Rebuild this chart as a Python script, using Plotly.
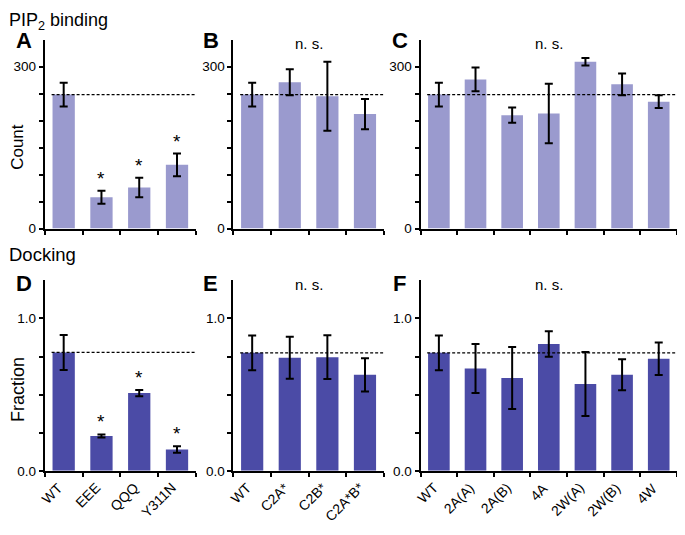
import plotly.graph_objects as go

# page is 685x535; the html body has an 8px margin, so the figure is drawn 8px in
OFF = 8
W, H = 685 - OFF, 535 - OFF

# ---- data ----
cats_A = ["WT", "EEE", "QQQ", "Y311N"]
cats_B = ["WT", "C2A*", "C2B*", "C2A*B*"]
cats_C = ["WT", "2A(A)", "2A(B)", "4A", "2W(A)", "2W(B)", "4W"]

count_A = [248, 58, 76, 118]
count_A_err = [22, 12, 18, 21]
count_B = [248, 271, 245, 212]
count_B_err = [22, 24, 64, 28]
count_C = [248, 276, 210, 213, 309, 267, 235]
count_C_err = [22, 22, 14, 55, 7, 20, 12]

frac_D = [0.777, 0.229, 0.51, 0.14]
frac_D_err = [0.115, 0.01, 0.02, 0.021]
frac_E = [0.774, 0.742, 0.746, 0.63]
frac_E_err = [0.114, 0.137, 0.144, 0.109]
frac_F = [0.774, 0.671, 0.609, 0.832, 0.57, 0.63, 0.735]
frac_F_err = [0.114, 0.161, 0.204, 0.083, 0.21, 0.102, 0.107]

sig_A = [False, True, True, True]
sig_D = [False, True, True, True]

count_ticks = [0, 50, 100, 150, 200, 250, 300]
count_ticktext = ["0", " ", " ", " ", " ", " ", "300"]
frac_ticks = [0, 0.25, 0.5, 0.75, 1.0]
frac_ticktext = ["0.0", " ", " ", " ", "1.0"]

TOP_COLOR = "#9A9ACE"
BOT_COLOR = "#4B4BA6"
FONT = "Liberation Sans, Arial, sans-serif"

# ---- layout geometry (page pixels) ----
xcols = [(43, 195), (232.7, 384), (421, 679)]
top_y = (40, 232)
bot_y = (284.5, 478)


def px(x):
    return (x - OFF) / W


def py(y):
    return 1 - (y - OFF) / H


def xd(a, b):
    return [px(a), px(b)]


def yd(t, b):
    return [py(b), py(t)]


def label(x, y, text, size, **kw):
    fig.add_annotation(x=px(x), y=py(y), xref="paper", yref="paper", text=text,
                       showarrow=False, xanchor=kw.pop("xanchor", "center"),
                       yanchor=kw.pop("yanchor", "middle"),
                       font=dict(size=size, color="black", family=FONT), **kw)


fig = go.Figure()

panels = [
    (cats_A, count_A, count_A_err, TOP_COLOR, 0, "top", sig_A, False),
    (cats_B, count_B, count_B_err, TOP_COLOR, 1, "top", None, True),
    (cats_C, count_C, count_C_err, TOP_COLOR, 2, "top", None, True),
    (cats_A, frac_D, frac_D_err, BOT_COLOR, 0, "bot", sig_D, False),
    (cats_B, frac_E, frac_E_err, BOT_COLOR, 1, "bot", None, True),
    (cats_C, frac_F, frac_F_err, BOT_COLOR, 2, "bot", None, True),
]

letters = ["A", "B", "C", "D", "E", "F"]
letter_x = [22, 210, 400, 22, 210, 400]

for i, (cats, vals, errs, color, col, row, sig, ns) in enumerate(panels):
    n = i + 1
    xa = "x" if n == 1 else f"x{n}"
    ya = "y" if n == 1 else f"y{n}"
    fig.add_trace(go.Bar(
        x=list(range(len(cats))), y=vals, marker_color=color, marker_line_width=0,
        error_y=dict(type="data", array=errs, color="black", thickness=2, width=4),
        xaxis=xa, yaxis=ya, showlegend=False, hoverinfo="skip"))
    xkey = "xaxis" if n == 1 else f"xaxis{n}"
    ykey = "yaxis" if n == 1 else f"yaxis{n}"
    ydom = yd(*top_y) if row == "top" else yd(*bot_y)
    fig.layout[xkey] = dict(
        domain=xd(*xcols[col]), anchor=ya, range=[-0.5, len(cats) - 0.5],
        tickmode="array",
        tickvals=[k - 0.5 for k in range(len(cats) + 1)],
        ticktext=[" "] * (len(cats) + 1),
        ticks="outside", ticklen=4, tickwidth=1.5, tickcolor="black",
        showline=True, linecolor="black", linewidth=2, showgrid=False,
        zeroline=False, fixedrange=True)
    if row == "top":
        fig.layout[ykey] = dict(
            domain=ydom, anchor=xa, range=[0, 350], tickmode="array",
            tickvals=count_ticks, ticktext=count_ticktext)
    else:
        fig.layout[ykey] = dict(
            domain=ydom, anchor=xa, range=[0, 1.25], tickmode="array",
            tickvals=frac_ticks, ticktext=frac_ticktext)
    fig.layout[ykey].update(
        ticks="outside", ticklen=4, tickwidth=1.5, tickcolor="black",
        showline=True, linecolor="black", linewidth=2, showgrid=False,
        zeroline=False, tickfont=dict(size=13.5, color="black", family=FONT))
    # category labels for bottom row
    if row == "bot":
        for k, c in enumerate(cats):
            fig.add_annotation(
                x=k, y=0, xref=xa, yref=ya, text=c, showarrow=False,
                textangle=-45, xanchor="right", yanchor="top",
                font=dict(size=14, color="black", family=FONT),
                xshift=5, yshift=-6)
    # dashed WT reference line
    fig.add_shape(type="line", xref=xa, yref=ya, x0=-0.32, x1=len(cats) - 0.45,
                  y0=vals[0], y1=vals[0],
                  line=dict(color="black", width=1.2, dash="3px,2px"))
    # significance
    if sig:
        for k, s in enumerate(sig):
            if s:
                fig.add_annotation(
                    x=k, y=vals[k] + errs[k], xref=xa, yref=ya, text="*",
                    showarrow=False, xanchor="center", yanchor="bottom", yshift=0,
                    font=dict(size=19, color="black", family=FONT))
    if ns:
        ytop = 44 if row == "top" else 289
        xc = (xcols[col][0] + xcols[col][1]) / 2
        label(xc, ytop, "n. s.", 15)
    # panel letter
    ly = 41 if row == "top" else 288
    label(letter_x[i], ly, f"<b>{letters[i]}</b>", 22)

# row titles
label(5, 8, "PIP<sub>2</sub> binding", 18, xanchor="left", yanchor="top")
label(5, 258, "Docking", 18.5, xanchor="left")
# y axis titles
label(16, 149, "Count", 17, textangle=-90)
label(16, 395, "Fraction", 18, textangle=-90)

fig.update_layout(
    width=W, height=H, margin=dict(l=0, r=0, t=0, b=0),
    paper_bgcolor="white", plot_bgcolor="white", bargap=0.41,
    font=dict(family=FONT, color="black"))

fig.write_html("out.html", config={"displayModeBar": False})
